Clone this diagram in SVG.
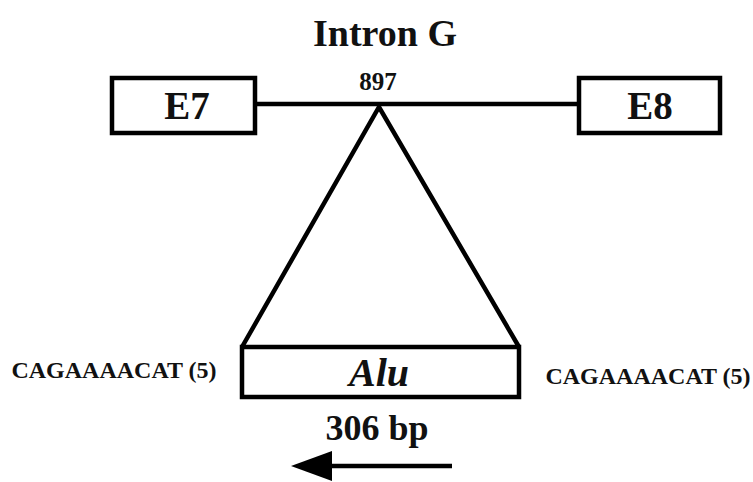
<svg xmlns="http://www.w3.org/2000/svg" width="753" height="482" viewBox="0 0 753 482">
<style>
.box{fill:#fff;stroke:#000;stroke-width:4.5}
.ln{fill:none;stroke:#000;stroke-width:4.5;stroke-linejoin:miter}
text{font-family:'Liberation Serif','DejaVu Serif','Times New Roman',serif;font-weight:bold;fill:#111;text-anchor:middle}
</style>
<rect width="753" height="482" fill="#fff"/>
<g id="connectors">
<line class="ln" x1="256" y1="104" x2="579" y2="104"/>
<polyline class="ln" points="242,347 379,107 519,347"/>
<line class="ln" x1="452" y1="466" x2="325" y2="466"/>
<polygon points="291,466 332,451 332,481" fill="#000"/>
</g>
<text x="385" y="46" font-size="38" font-family="Liberation Serif, serif">Intron G</text>
<text x="378" y="90" font-size="25" font-family="Liberation Serif, serif">897</text>
<g id="E7">
<rect class="box" x="112" y="78" width="143" height="55"/>
<text x="187" y="119" font-size="39" font-family="Liberation Serif, serif">E7</text>
</g>
<g id="E8">
<rect class="box" x="579" y="78" width="141" height="55"/>
<text x="650" y="119" font-size="39" font-family="Liberation Serif, serif">E8</text>
</g>
<g id="Alu">
<rect class="box" x="242" y="347" width="277" height="50"/>
<text x="379" y="386" font-size="40" font-style="italic" font-family="Liberation Serif, serif">Alu</text>
</g>
<text x="114" y="378" font-size="24" font-family="Liberation Serif, serif">CAGAAAACAT (5)</text>
<text x="648" y="384" font-size="24" font-family="Liberation Serif, serif">CAGAAAACAT (5)</text>
<text x="377" y="440" font-size="36" font-family="Liberation Serif, serif">306 bp</text>
</svg>
